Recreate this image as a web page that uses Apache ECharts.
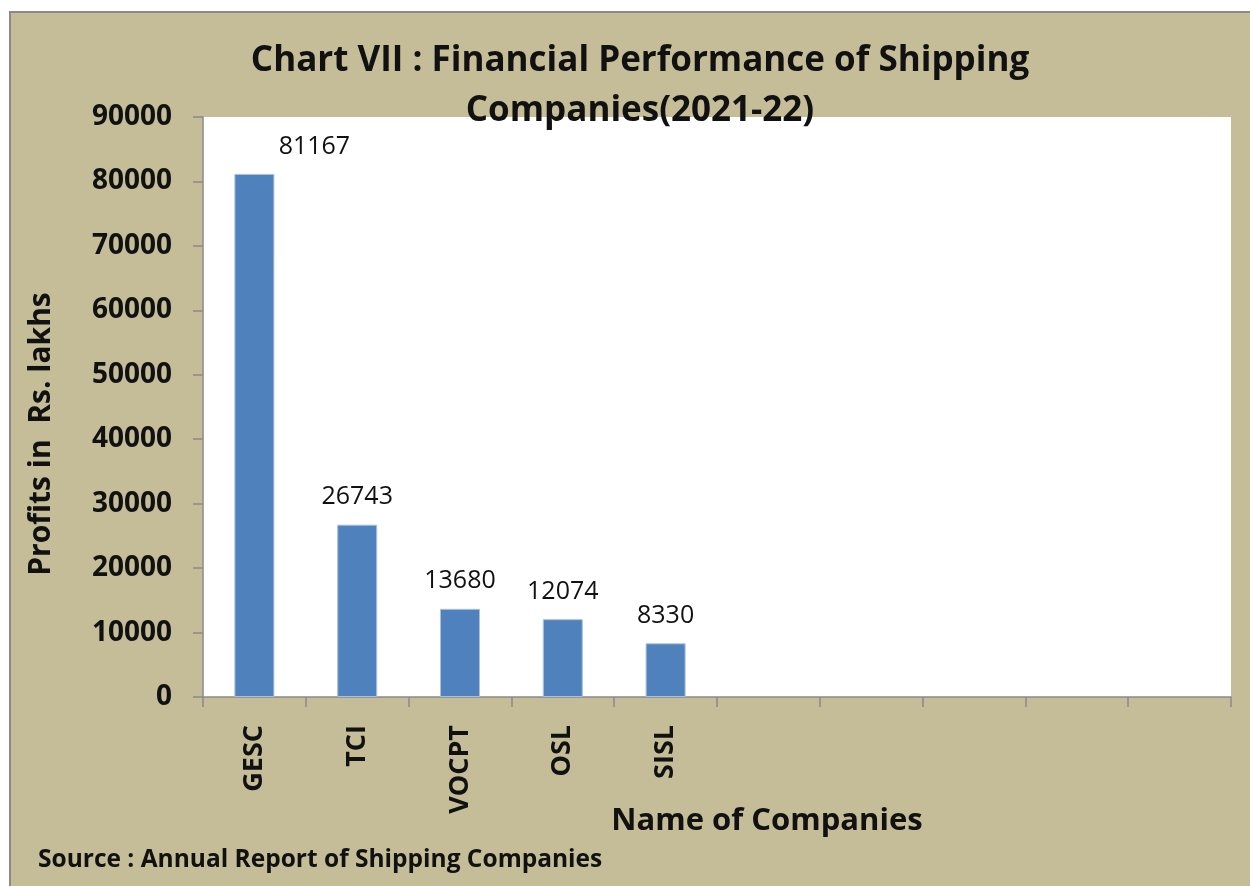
<!DOCTYPE html>
<html>
<head>
<meta charset="utf-8">
<script src="https://cdn.jsdelivr.net/npm/echarts@6/dist/echarts.min.js"></script>
<style>
  html, body { margin: 0; padding: 0; background: #fff; }
  #wrap { position: relative; width: 1250px; height: 886px; overflow: hidden; }
  #main { position: absolute; left: 9px; top: 11px; width: 1241px; height: 875px;
          border-top: 2px solid #8a8a8a; border-left: 2px solid #8a8a8a; box-sizing: border-box; }
</style>
</head>
<body>
<div id="wrap"><div id="main"></div></div>
<script>
// companies (5 real ones, remaining slots empty as in the original sheet)
var companies = ['GESC', 'TCI', 'VOCPT', 'OSL', 'SISL', ' ', '  ', '   ', '    ', '     '];
var profits = [81167, 26743, 13680, 12074, 8330, null, null, null, null, null];
var yTicks = { min: 0, max: 90000, step: 10000 };

var fontFam = '"Open Sans", Lato, sans-serif';

function showchart(){
    var myChart = echarts.init(document.getElementById('main'));
    var barData = profits.map(function(v, i){
        if (i === 0) return { value: v, label: { offset: [60, 0] } };
        return v;
    });

    var option = {
        backgroundColor: '#c4bd97',
        animation: false,
        title: {
            text: 'Chart VII : Financial Performance of Shipping\nCompanies(2021-22)',
            left: 624, top: 18, textAlign: 'center',
            textStyle: { fontFamily: fontFam, fontWeight: 'bold', fontSize: 35, lineHeight: 50, color: '#111' }
        },
        grid: { left: 192, top: 104, right: 19, bottom: 189, show: true, backgroundColor: '#fff', borderWidth: 0,
                containLabel: false, outerBoundsMode: 'none' },
        xAxis: {
            type: 'category', data: companies,
            name: 'Name of Companies', nameLocation: 'middle', nameGap: 109, nameMoveOverlap: false,
            nameTextStyle: { fontFamily: fontFam, fontWeight: 'bold', fontSize: 31, color: '#111', padding: [0, 0, 0, 100] },
            axisLine: { lineStyle: { color: '#8a8a8a', width: 1.5 } },
            axisTick: { show: true, length: 10, lineStyle: { color: '#8a8a8a', width: 1.5 } },
            axisLabel: { rotate: 90, margin: 28, interval: 0, fontFamily: fontFam, fontWeight: 'bold', fontSize: 27, color: '#111' }
        },
        yAxis: {
            type: 'value', min: yTicks.min, max: yTicks.max, interval: yTicks.step,
            name: 'Profits in  Rs. lakhs', nameLocation: 'middle', nameGap: 147, nameMoveOverlap: false,
            nameTextStyle: { fontFamily: fontFam, fontWeight: 'bold', fontSize: 30, color: '#111', padding: [0, 54, 0, 0] },
            axisLine: { show: true, lineStyle: { color: '#8a8a8a', width: 1.5 } },
            axisTick: { show: true, length: 10, lineStyle: { color: '#8a8a8a', width: 1.5 } },
            splitLine: { show: false },
            axisLabel: { margin: 31, fontFamily: fontFam, fontWeight: 'bold', fontSize: 28, color: '#111',
                         formatter: function(v){ return String(v); } }
        },
        series: [{
            type: 'bar', data: barData, barWidth: 40,
            itemStyle: { color: '#4f81bd', borderColor: '#a9c1df', borderWidth: 1 },
            label: { show: true, position: 'top', distance: 15, fontFamily: fontFam, fontSize: 25, fontWeight: 500, color: '#111' }
        }],
        graphic: [{
            type: 'text', left: 27, top: 835,
            style: { text: 'Source : Annual Report of Shipping Companies', fontFamily: fontFam, fontWeight: 'bold', fontSize: 24.5, fill: '#111' }
        }]
    };

    myChart.setOption(option);
}
showchart();
</script>
</body>
</html>
